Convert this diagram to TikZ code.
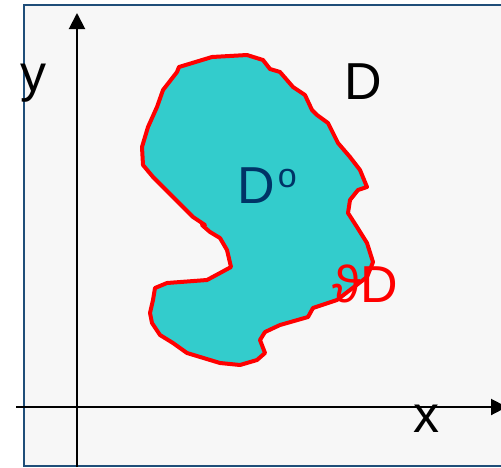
\documentclass[tikz,border=0pt]{standalone}
\usepackage{fontspec}
\setmainfont{Liberation Sans}
\usetikzlibrary{arrows.meta}
\definecolor{bgray}{HTML}{F7F7F7}
\definecolor{framecol}{HTML}{1F4E79}
\definecolor{blobfill}{HTML}{33CCCC}
\definecolor{dblue}{HTML}{003366}
\tikzset{
  axis/.style={line width=2pt,-{Triangle[length=16pt,width=16pt]}},
  lbl/.style={inner sep=0pt,anchor=base west,font=\fontsize{52}{60}\selectfont},
}
\begin{document}
\begin{tikzpicture}[x=1pt,y=-1pt]
\useasboundingbox (0,0) rectangle (501,467);
\fill[bgray] (24,5) rectangle (505,466);
\draw[framecol,line width=1.5pt] (505,5) -- (24,5) -- (24,466) -- (505,466);
% region
\filldraw[fill=blobfill,draw=red,line width=4pt,line join=round]
 (179,67) -- (212,57) -- (247,55) -- (263,60) -- (270,69) -- (280,72) -- (293,87)
 -- (305,95) -- (312,110) -- (317,115) -- (328,123) -- (338,143) -- (350,157)
 -- (360,170) -- (367,187) -- (358,190) -- (350,200) -- (348,213) -- (357,227)
 -- (367,243) -- (373,262) -- (367,277) -- (350,290) -- (337,300) -- (313,308)
 -- (308,317) -- (280,325) -- (265,332) -- (260,340) -- (265,353) -- (257,360)
 -- (240,365) -- (220,363) -- (187,353) -- (173,343) -- (160,335) -- (152,323)
 -- (150,313) -- (153,300) -- (155,288) -- (167,283) -- (207,280) -- (220,273)
 -- (231,267) -- (227,250) -- (220,238) -- (210,232) -- (202,225) -- (205,225)
 -- (193,217) -- (173,197) -- (153,177) -- (143,165) -- (142,147) -- (148,127)
 -- (157,107) -- (163,90) -- (177,72) -- cycle;
% axes
\coordinate (xs) at (16,407);
\coordinate (xe) at (507,407);
\coordinate (ys) at (77,467);
\coordinate (ye) at (77,13);
\draw[axis] (xs) -- (xe);
\draw[axis] (ys) -- (ye);
% labels
\node[lbl] (ylab) at (20,91) {y};
\node[lbl] (xlab) at (413,432) {x};
\node[lbl] (dlab) at (344,99) {D};
\node[lbl,text=dblue] (dint) at (237,203) {D\hspace{3pt}\raisebox{16pt}{\fontsize{34}{36}\selectfont o}};
\node[lbl,text=red] (dbd) at (332,302) {ϑD};
\end{tikzpicture}
\end{document}
